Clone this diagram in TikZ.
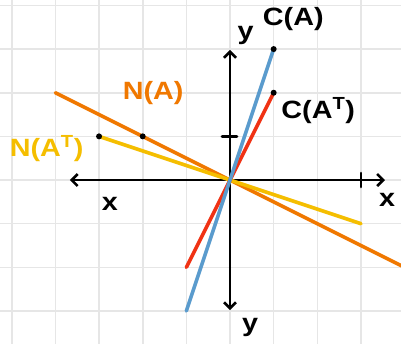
\documentclass[tikz,border=0pt]{standalone}
\usepackage{fontspec}
\setmainfont{Liberation Sans}
\usetikzlibrary{arrows.meta}
\definecolor{gridgray}{RGB}{230,230,230}
\definecolor{lorange}{RGB}{240,120,0}
\definecolor{lyellow}{RGB}{245,190,0}
\definecolor{lred}{RGB}{240,50,20}
\definecolor{lblue}{RGB}{90,155,205}
\tikzset{
  axis/.style={line width=2.6pt, black, line cap=round},
  vec/.style={line width=3.6pt, line cap=round},
  dotpt/.style={circle, fill=black, inner sep=0pt, minimum size=6pt},
  lbl/.style={inner sep=0pt, font=\fontsize{25}{25}\selectfont\bfseries},
}
\newcommand{\hw}[1]{\scalebox{1.15}[1]{#1}}
\begin{document}
\begin{tikzpicture}[x=43.65pt,y=43.65pt]
\useasboundingbox (-5.269,-3.734) rectangle (3.917,4.124);
\clip (-5.269,-3.734) rectangle (3.917,4.124);
\fill[white] (-5.269,-3.734) rectangle (3.917,4.124);
\draw[gridgray, line width=1.6pt, step=1] (-5.5,-3.9) grid (4.1,4.3);
% coordinates
\coordinate (O) at (0,0);
\coordinate (xl) at (-3.67,0);
\coordinate (xr) at (3.55,0);
\coordinate (yt) at (0,2.98);
\coordinate (yb) at (0,-2.98);
\coordinate (bl) at (-1,-3);
\coordinate (br) at (1,3);
\coordinate (rl) at (-1,-2);
\coordinate (rr) at (1,2);
\coordinate (ol) at (-4,2);
\coordinate (or) at (3.95,-1.975);
\coordinate (yl) at (-3,1);
\coordinate (yr) at (3,-1);
% axes
\draw[axis, {Straight Barb[length=6pt,width=12pt,line width=2.6pt]}-{Straight Barb[length=6pt,width=12pt,line width=2.6pt]}] (xl) -- (xr);
\draw[axis, {Straight Barb[length=6pt,width=12pt,line width=2.6pt]}-{Straight Barb[length=6pt,width=12pt,line width=2.6pt]}] (yb) -- (yt);
\coordinate (xt) at (3,0);
\coordinate (ytk) at (0,1);
\draw[axis] ([yshift=-7pt]xt) -- ([yshift=7pt]xt);
\draw[axis] ([xshift=-8pt]ytk) -- ([xshift=7pt]ytk);
% lines
\draw[vec, lorange] (ol) -- (or);
\draw[vec, lyellow] (yl) -- (yr);
\draw[vec, lred] (rl) -- (rr);
\draw[vec, lblue] (bl) -- (br);
% dots
\node[dotpt] (d1) at (br) {};
\node[dotpt] (d2) at (rr) {};
\node[dotpt] (d3) at (-2,1) {};
\node[dotpt] (d4) at (yl) {};
% labels
\node[lbl] (lca) at (1.45,3.69) {\hw{C(A)}};
\node[lbl] (lcat) at (2.02,1.58) {\hw{C(A\textsuperscript{T})}};
\node[lbl, text=lorange] (lna) at (-1.76,1.99) {\hw{N(A)}};
\node[lbl, text=lyellow] (lnat) at (-4.2,0.73) {\hw{N(A\textsuperscript{T})}};
\node[lbl] (ly1) at (0.36,3.3) {\hw{y}};
\node[lbl] (ly2) at (0.46,-3.37) {\hw{y}};
\node[lbl] (lx1) at (3.6,-0.46) {\hw{x}};
\node[lbl] (lx2) at (-2.75,-0.55) {\hw{x}};
\end{tikzpicture}
\end{document}
